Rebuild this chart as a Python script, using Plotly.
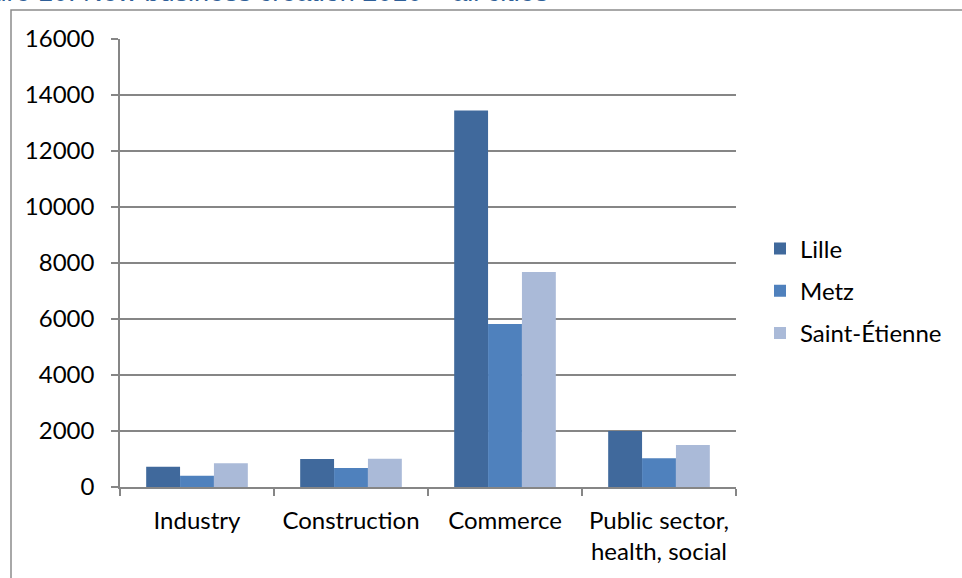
import plotly.graph_objects as go

# New business creation 2010, by sector and city
sectors = ["Industry", "Construction", "Commerce", "Public sector,<br>health, social"]
cities = ["Lille", "Metz", "Saint-Étienne"]
lille = [720, 1000, 13450, 2000]
metz = [400, 680, 5820, 1030]
saint_etienne = [850, 1010, 7680, 1500]
y_ticks = [0, 2000, 4000, 6000, 8000, 10000, 12000, 14000, 16000]

colors = ["#40699C", "#4F81BD", "#AABAD8"]
series = [lille, metz, saint_etienne]

W, H = 962, 578
L, R, T, B = 120, 226, 39, 91
pw, ph = W - L - R, H - T - B

fig = go.Figure()
for name, vals, col in zip(cities, series, colors):
    fig.add_trace(go.Bar(
        x=sectors, y=vals, name=name, marker_color=col,
        marker_line_width=0, legendgroup=name,
    ))

axis_grey = "#868686"
font_family = "Lato, 'Open Sans', sans-serif"
fs = 24

fig.update_layout(
    width=W, height=H,
    margin=dict(l=L, r=R, t=T, b=B, pad=0),
    paper_bgcolor="white", plot_bgcolor="white",
    barmode="group", bargap=0.34, bargroupgap=0,
    font=dict(family=font_family, size=fs, color="#000000"),
    showlegend=True,
    legend=dict(
        x=(760 - L) / pw, xanchor="left",
        y=(H - B - 291) / ph, yanchor="middle",
        font=dict(size=fs), tracegroupgap=8,
        itemwidth=30, bgcolor="rgba(0,0,0,0)",
    ),
    xaxis=dict(
        type="category", tickson="boundaries", ticks="outside",
        ticklen=7, tickcolor=axis_grey, tickwidth=1.5,
        showline=True, linecolor=axis_grey, linewidth=1.5,
        showgrid=False, tickfont=dict(size=fs), ticklabelstandoff=11,
    ),
    yaxis=dict(
        range=[0, 16000], tickvals=y_ticks,
        ticktext=[str(v) for v in y_ticks], ticks="outside",
        ticklen=7, tickcolor=axis_grey, tickwidth=1.5,
        showline=True, linecolor=axis_grey, linewidth=1.5,
        showgrid=True, gridcolor=axis_grey, gridwidth=1.5,
        zeroline=False, tickfont=dict(size=fs), ticklabelstandoff=12,
    ),
)

# chart-area border
fig.add_shape(
    type="rect", xref="paper", yref="paper",
    x0=(11 - L) / pw, x1=(W + 20 - L) / pw,
    y0=(H - B - (H + 20)) / ph, y1=(H - B - 10) / ph,
    line=dict(color="#8C8C8C", width=1.5), fillcolor="rgba(0,0,0,0)",
    layer="below",
)

# caption above the chart
fig.add_annotation(
    text="Figure 10: New business creation 2010 – all cities",
    xref="paper", yref="paper",
    x=(550 - L) / pw, xanchor="right",
    y=(H - B - 9) / ph, yanchor="bottom",
    showarrow=False,
    font=dict(family="'Liberation Sans', Arial, sans-serif", size=27, color="#2F5F98"),
)

fig.write_html("out.html")
